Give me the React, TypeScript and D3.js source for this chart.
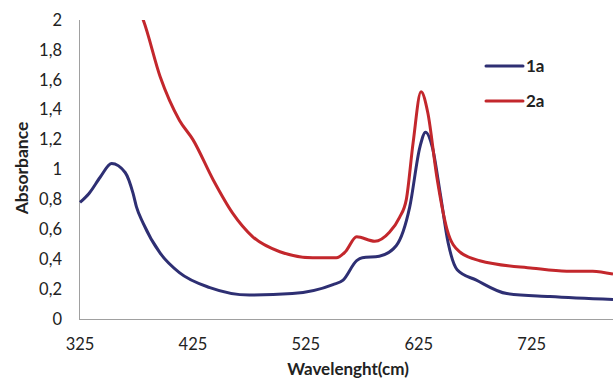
import * as d3 from "d3";

// series 1a
const wave1 = [325, 333, 343, 353, 365, 372, 375, 381, 396, 413, 440, 475, 513, 549, 558, 570, 575, 590, 605, 617, 626, 631, 637, 644, 651, 659, 676, 703, 741, 797];
const abs1 = [0.78, 0.84, 0.95, 1.04, 0.98, 0.84, 0.75, 0.64, 0.44, 0.31, 0.21, 0.16, 0.17, 0.23, 0.26, 0.39, 0.41, 0.42, 0.49, 0.75, 1.15, 1.25, 1.15, 0.84, 0.51, 0.33, 0.26, 0.17, 0.15, 0.13];

// series 2a
const wave2 = [372, 381, 396, 413, 425, 443, 460, 478, 502, 531, 552, 560, 570, 586, 599, 608, 614, 620, 627, 633, 641, 650, 661, 679, 726, 756, 779, 797];
const abs2 = [2.15, 2.0, 1.62, 1.33, 1.2, 0.93, 0.71, 0.55, 0.45, 0.41, 0.41, 0.45, 0.55, 0.52, 0.58, 0.68, 0.8, 1.18, 1.52, 1.38, 0.95, 0.6, 0.45, 0.39, 0.34, 0.32, 0.32, 0.3];

const xTicks = [325, 425, 525, 625, 725];
const yTicks = [0, 0.2, 0.4, 0.6, 0.8, 1, 1.2, 1.4, 1.6, 1.8, 2];

const series = [
  { name: "1a", color: "#2e2f73", x: wave1, y: abs1 },
  { name: "2a", color: "#c3272c", x: wave2, y: abs2 },
];

const W = 613;
const H = 381;
const font = "Lato, 'Open Sans', sans-serif";

export default function App() {
  const x = d3.scaleLinear().domain([325, 797]).range([80, 613]);
  const y = d3.scaleLinear().domain([0, 2]).range([319, 20]);

  const line = d3
    .line<[number, number]>()
    .x((d) => x(d[0]))
    .y((d) => y(d[1]))
    .curve(d3.curveMonotoneX);

  const fmt = (v: number) => (Number.isInteger(v) ? String(v) : v.toFixed(1).replace(".", ","));

  return (
    <svg
      width={W}
      height={H}
      style={{ position: "absolute", left: 0, top: 0, background: "#fff" }}
    >
      <defs>
        <clipPath id="plot">
          <rect x={79} y={20} width={W - 79} height={300} />
        </clipPath>
      </defs>

      {/* axes */}
      <line x1={79.5} x2={79.5} y1={20} y2={319.5} stroke="#a0a0a0" strokeWidth={1} />
      <line x1={79} x2={W} y1={319.5} y2={319.5} stroke="#a0a0a0" strokeWidth={1} />

      {yTicks.map((t) => (
        <text
          key={t}
          x={62}
          y={y(t)}
          dy="0.35em"
          textAnchor="end"
          fontFamily={font}
          fontSize={16.5}
          fill="#222"
        >
          {fmt(t)}
        </text>
      ))}

      {xTicks.map((t) => (
        <text
          key={t}
          x={x(t)}
          y={350}
          textAnchor="middle"
          fontFamily={font}
          fontSize={16.5}
          fill="#222"
        >
          {t}
        </text>
      ))}

      <text
        transform="translate(28,168) rotate(-90)"
        textAnchor="middle"
        fontFamily={font}
        fontSize={17.5}
        fontWeight="bold"
        fill="#222"
      >
        Absorbance
      </text>
      <text
        x={348}
        y={375}
        textAnchor="middle"
        fontFamily={font}
        fontSize={17}
        fontWeight="bold"
        fill="#222"
      >
        Wavelenght(cm)
      </text>

      <g clipPath="url(#plot)">
        {series.map((s) => (
          <path
            key={s.name}
            d={line(s.x.map((v, i) => [v, s.y[i]] as [number, number])) || ""}
            fill="none"
            stroke={s.color}
            strokeWidth={3}
            strokeLinejoin="round"
          />
        ))}
      </g>

      {/* legend */}
      {series.map((s, i) => (
        <g key={s.name} transform={`translate(486,${66 + i * 35})`}>
          <line x1={0} x2={37} y1={0} y2={0} stroke={s.color} strokeWidth={3} strokeLinecap="round" />
          <text x={40} y={0} dy="0.35em" fontFamily={font} fontSize={17} fontWeight="bold" fill="#222">
            {s.name}
          </text>
        </g>
      ))}
    </svg>
  );
}
